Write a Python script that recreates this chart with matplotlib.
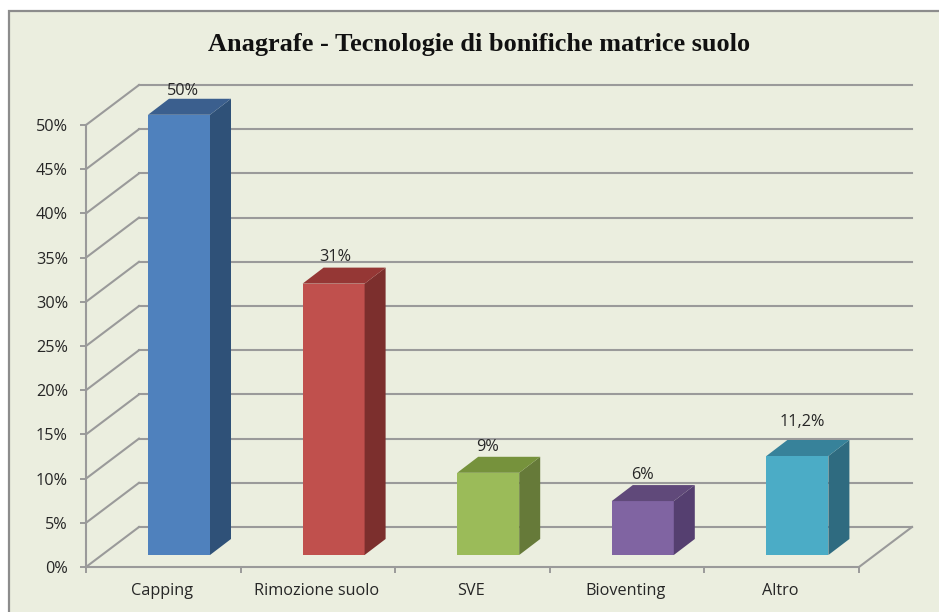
import matplotlib
matplotlib.use("Agg")
import matplotlib.pyplot as plt
from matplotlib.patches import Polygon, Rectangle

categories = ["Capping", "Rimozione suolo", "SVE", "Bioventing", "Altro"]
values = [49.8, 30.7, 9.3, 6.1, 11.2]
value_labels = ["50%", "31%", "9%", "6%", "11,2%"]
y_ticks = [0, 5, 10, 15, 20, 25, 30, 35, 40, 45, 50]
y_tick_labels = [f"{v}%" for v in y_ticks]
front_colors = ["#4F81BD", "#C0504D", "#9BBB59", "#8064A2", "#4BACC6"]
side_colors = ["#2F5178", "#7C2F2D", "#667A39", "#553F70", "#2F6B80"]
top_colors = ["#3B5F8E", "#953735", "#76923C", "#60497A", "#37829A"]

W, H = 939, 612
GRID = "#9A9A9A"
TEXT = "#262626"
LABEL_FONT = "Open Sans"

fig = plt.figure(figsize=(W / 100, H / 100), dpi=100, facecolor="white")
fig.add_artist(Rectangle((8.5 / W, -0.02), 1.0, (H - 11) / H + 0.02, transform=fig.transFigure,
                         facecolor="#EBEEDF", edgecolor="#8C8C8C", linewidth=1.6, zorder=-5))

ax = fig.add_axes([86 / W, (H - 567) / H, 773 / W, 442 / H], zorder=2)
ax.patch.set_alpha(0)
ax.set_xlim(0, 5)
ax.set_ylim(0, 50)

# Oblique projection offsets, in data units
dx = 53 / (773 / 5)
dy = 40 / (442 / 50)
bar_left = 62 / (773 / 5)
bar_width = 62 / (773 / 5)
bar_dx = 21 / (773 / 5)
bar_dy = 16 / (442 / 50)
bar_base = 12 / (442 / 50)

for v in y_ticks:
    ax.plot([0, dx], [v, v + dy], color=GRID, lw=1.5, clip_on=False, zorder=1)
    ax.plot([dx, 5 + dx], [v + dy, v + dy], color=GRID, lw=1.5, clip_on=False, zorder=1)
ax.plot([5, 5 + dx], [0, dy], color=GRID, lw=1.5, clip_on=False, zorder=1)

for i, v in enumerate(values):
    x0 = i + bar_left
    x1 = x0 + bar_width
    y0 = bar_base
    y1 = bar_base + v
    ax.bar(x0, v, width=bar_width, bottom=y0, align="edge", color=front_colors[i],
           clip_on=False, zorder=3)
    ax.add_patch(Polygon([(x1, y0), (x1 + bar_dx, y0 + bar_dy), (x1 + bar_dx, y1 + bar_dy), (x1, y1)],
                         closed=True, facecolor=side_colors[i], edgecolor="none", clip_on=False, zorder=3))
    ax.add_patch(Polygon([(x0, y1), (x0 + bar_dx, y1 + bar_dy), (x1 + bar_dx, y1 + bar_dy), (x1, y1)],
                         closed=True, facecolor=top_colors[i], edgecolor="none", clip_on=False, zorder=3))

label_shift = [(4, 8), (2, 11), (-1, 10), (0, 10), (5, 18)]
for i, v in enumerate(values):
    xc = i + bar_left + bar_width / 2
    ax.annotate(value_labels[i], (xc, bar_base + v + bar_dy), xytext=label_shift[i],
                textcoords="offset pixels", ha="center", va="center", fontsize=11.7,
                family=LABEL_FONT, color=TEXT, annotation_clip=False, zorder=4)

for side in ["top", "right"]:
    ax.spines[side].set_visible(False)
for side in ["left", "bottom"]:
    ax.spines[side].set_color(GRID)
    ax.spines[side].set_linewidth(1.5)

ax.set_yticks(y_ticks, y_tick_labels, fontsize=11.7, family=LABEL_FONT, color=TEXT)
ax.tick_params(axis="y", length=4.5, width=1.4, color=GRID, pad=8.5)
ax.set_xticks(range(6), [""] * 6)
ax.tick_params(axis="x", which="major", length=4.5, width=1.4, color=GRID)
ax.set_xticks([i + 0.49 for i in range(5)], categories, minor=True, fontsize=11.7,
              family=LABEL_FONT, color=TEXT)
ax.tick_params(axis="x", which="minor", length=0, pad=11.5)

fig.text(479 / W, 1 - 44 / H, "Anagrafe - Tecnologie di bonifiche matrice suolo", ha="center", va="center",
         family="Liberation Serif", fontweight="bold", fontsize=18.9, color="#111111")

fig.savefig("out.png", dpi=100)
